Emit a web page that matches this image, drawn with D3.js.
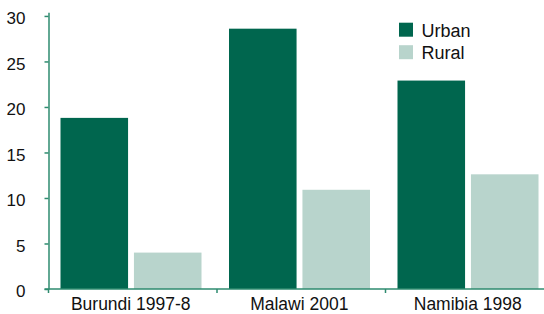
<!DOCTYPE html>
<html>
<head>
<meta charset="utf-8">
<script src="https://cdn.jsdelivr.net/npm/d3@7"></script>
<style>
  body { margin: 0; background: #fff; }
  svg { display: block; font-family: "Liberation Sans", Arial, Helvetica, sans-serif; }
</style>
</head>
<body>
<div id="chart"></div>
<script>
// categories and series (percent)
var categories = ["Burundi 1997-8", "Malawi 2001", "Namibia 1998"];
var seriesNames = ["Urban", "Rural"];
var urban = [18.8, 28.6, 22.9];
var rural = [4.0, 10.9, 12.6];
var yTicks = [0, 5, 10, 15, 20, 25, 30];

var colors = ["#00664e", "#b8d4cc"];
var axisColor = "#2e8b6f";

var width = 544, height = 314;
var left = 48.5, bottom = 289;

var svg = d3.select("#chart").append("svg")
  .attr("width", width)
  .attr("height", height);

var x = d3.scaleBand()
  .domain(categories)
  .range([left, left + 3 * 168.5])
  .paddingInner(0)
  .paddingOuter(0);

var xInner = d3.scaleBand()
  .domain(seriesNames)
  .range([12, 153])
  .paddingInner(0.08);

var y = d3.scaleLinear()
  .domain([0, 30.4])
  .range([bottom, 12.3]);

var rows = categories.map(function (c, i) {
  return { cat: c, values: [urban[i], rural[i]] };
});

// bars
var groups = svg.selectAll(".grp")
  .data(rows)
  .enter().append("g")
  .attr("transform", function (d) { return "translate(" + x(d.cat) + ",0)"; });

groups.selectAll("rect")
  .data(function (d) { return d.values.map(function (v, j) { return { key: seriesNames[j], v: v, j: j }; }); })
  .enter().append("rect")
  .attr("x", function (d) { return xInner(d.key); })
  .attr("width", xInner.bandwidth())
  .attr("y", function (d) { return y(d.v); })
  .attr("height", function (d) { return bottom - y(d.v); })
  .attr("fill", function (d) { return colors[d.j]; });

// y axis
var yAxis = svg.append("g")
  .attr("transform", "translate(" + left + ",0)")
  .call(d3.axisLeft(y).tickValues(yTicks).tickSize(4).tickSizeOuter(0).tickPadding(19));
yAxis.selectAll("path, line").attr("stroke", axisColor).attr("stroke-width", 1.5);
yAxis.selectAll("text").attr("font-size", 17).attr("fill", "#111")
  .attr("y", 2.5)
  .attr("font-family", "Liberation Sans, Arial, sans-serif");

// x axis
var xAxisG = svg.append("g")
  .attr("transform", "translate(0," + bottom + ")");
xAxisG.append("line")
  .attr("x1", left - 4).attr("x2", width)
  .attr("stroke", axisColor).attr("stroke-width", 1.5);
xAxisG.selectAll(".tk")
  .data(categories)
  .enter().append("line")
  .attr("x1", function (d) { return x(d); })
  .attr("x2", function (d) { return x(d); })
  .attr("y1", 0).attr("y2", 4)
  .attr("stroke", axisColor).attr("stroke-width", 1.5);
xAxisG.selectAll(".lbl")
  .data(categories)
  .enter().append("text")
  .attr("x", function (d) { return x(d) + x.bandwidth() / 2 - 2; })
  .attr("y", 21)
  .attr("text-anchor", "middle")
  .attr("font-size", 17.5)
  .attr("fill", "#111")
  .text(function (d) { return d; });

// legend
var legend = svg.selectAll(".legend")
  .data(seriesNames)
  .enter().append("g")
  .attr("transform", function (d, i) { return "translate(399," + (22.7 + i * 22.5) + ")"; });
legend.append("rect")
  .attr("width", 14).attr("height", 14)
  .attr("fill", function (d, i) { return colors[i]; });
legend.append("text")
  .attr("x", 22.5).attr("y", 14)
  .attr("font-size", 18)
  .attr("fill", "#111")
  .text(function (d) { return d; });
</script>
</body>
</html>
